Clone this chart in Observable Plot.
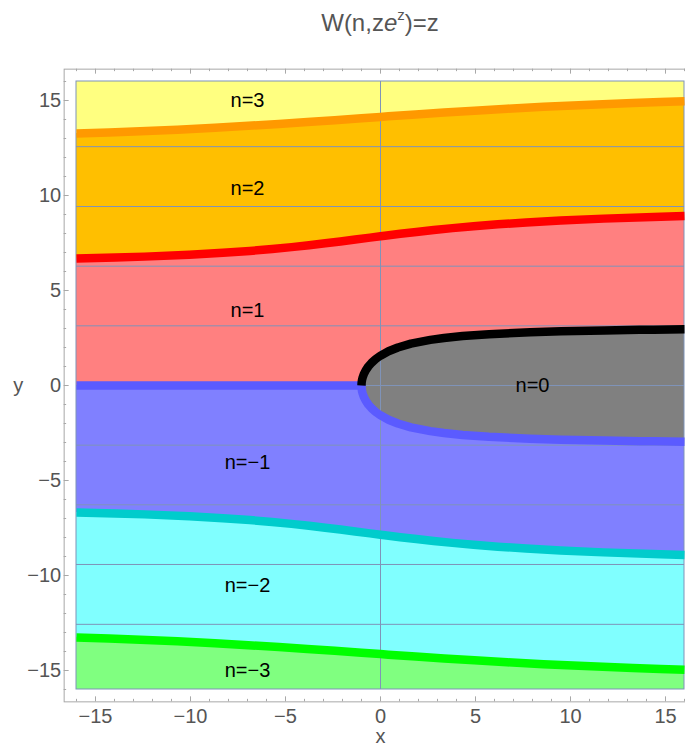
<!DOCTYPE html>
<html><head><meta charset="utf-8">
<script src="https://cdn.jsdelivr.net/npm/d3@7"></script>
<script src="https://cdn.jsdelivr.net/npm/@observablehq/plot@0.6"></script>
<style>
html,body{margin:0;padding:0;background:#fff;overflow:hidden;}
#title{position:relative;height:48px;width:685px;}
#title span.t{position:absolute;left:380px;top:11px;transform:translateX(-50%);font:24px/24px "Liberation Sans",Arial,sans-serif;color:#555;white-space:nowrap;}
#title span.sup{font-size:15px;position:relative;top:-11px;}
#chart svg{max-width:none !important;}
</style></head>
<body>
<div id="title"><span class="t">W(n,z<i>e</i><span class="sup">z</span>)=z</span></div>
<div id="chart"></div>
<script>
// ---- data ----
const dataLimX = [-16, 16];
const dataLimY = [-16, 16];
const axisLimX = [-16.65, 16.65];
const axisLimY = [-16.65, 16.65];
const majorTicks = [-15, -10, -5, 0, 5, 10, 15];
const minorTicks = [-16,-14,-13,-12,-11,-9,-8,-7,-6,-4,-3,-2,-1,1,2,3,4,6,7,8,9,11,12,13,14,16];
const gridY = [-12.57, -9.42, -6.28, -3.14, 0, 3.14, 6.28, 9.42, 12.57];
const gridX = [0];

// boundary n=2 / n=3 (orange)
const edgeOrange = [[-16.0,13.258],[-14.29,13.316],[-12.98,13.366],[-10.69,13.466],[-8.71,13.566],[-6.96,13.666],[-5.35,13.766],[-3.85,13.866],[-2.41,13.966],[-1.00,14.066],[0,14.137],[0.41,14.166],[1.85,14.266],[3.35,14.366],[4.94,14.466],[6.67,14.566],[8.58,14.666],[10.75,14.766],[13.28,14.866],[14.73,14.916],[16.0,14.956]];
// boundary n=1 / n=2 (red)
const edgeRed = [[-16.0,6.678],[-13.94,6.733],[-12.42,6.783],[-10.06,6.883],[-8.29,6.983],[-6.88,7.083],[-5.70,7.183],[-4.68,7.283],[-3.76,7.383],[-2.91,7.483],[-2.11,7.583],[-1.33,7.683],[-0.55,7.783],[0,7.854],[0.23,7.883],[1.04,7.983],[1.89,8.083],[2.80,8.183],[3.79,8.283],[4.90,8.383],[6.18,8.483],[7.67,8.583],[9.48,8.683],[11.75,8.783],[14.76,8.883],[16.0,8.916]];
// boundary n=0 / n=1 (black)
const edgeBlack = [[-1.0,0],[-0.997,0.1],[-0.987,0.2],[-0.970,0.3],[-0.946,0.4],[-0.877,0.6],[-0.777,0.8],[-0.642,1.0],[-0.467,1.2],[-0.242,1.4],[0,1.571],[0.420,1.8],[0.915,2.0],[1.601,2.2],[2.620,2.4],[3.343,2.5],[4.32,2.6],[5.71,2.7],[7.87,2.8],[9.50,2.85],[11.77,2.9],[13.64,2.93],[14.38,2.94],[15.21,2.95],[16.0,2.9586]];
// boundary n=-1 / n=0 and n=-1 / n=1 (blue)
const edgeBlueCut = [[-16,0],[-1.0,0]];
const edgeBlue = [[-1.0,0],[-0.997,-0.1],[-0.987,-0.2],[-0.970,-0.3],[-0.946,-0.4],[-0.877,-0.6],[-0.777,-0.8],[-0.642,-1.0],[-0.467,-1.2],[-0.242,-1.4],[0,-1.571],[0.420,-1.8],[0.915,-2.0],[1.601,-2.2],[2.620,-2.4],[3.343,-2.5],[4.32,-2.6],[5.71,-2.7],[7.87,-2.8],[9.50,-2.85],[11.77,-2.9],[13.64,-2.93],[14.38,-2.94],[15.21,-2.95],[16.0,-2.9586]];
// boundary n=-2 / n=-1 (cyan)
const edgeCyan = [[-16.0,-6.678],[-13.94,-6.733],[-12.42,-6.783],[-10.06,-6.883],[-8.29,-6.983],[-6.88,-7.083],[-5.70,-7.183],[-4.68,-7.283],[-3.76,-7.383],[-2.91,-7.483],[-2.11,-7.583],[-1.33,-7.683],[-0.55,-7.783],[0,-7.854],[0.23,-7.883],[1.04,-7.983],[1.89,-8.083],[2.80,-8.183],[3.79,-8.283],[4.90,-8.383],[6.18,-8.483],[7.67,-8.583],[9.48,-8.683],[11.75,-8.783],[14.76,-8.883],[16.0,-8.916]];
// boundary n=-3 / n=-2 (green)
const edgeGreen = [[-16.0,-13.258],[-14.29,-13.316],[-12.98,-13.366],[-10.69,-13.466],[-8.71,-13.566],[-6.96,-13.666],[-5.35,-13.766],[-3.85,-13.866],[-2.41,-13.966],[-1.00,-14.066],[0,-14.137],[0.41,-14.166],[1.85,-14.266],[3.35,-14.366],[4.94,-14.466],[6.67,-14.566],[8.58,-14.666],[10.75,-14.766],[13.28,-14.866],[14.73,-14.916],[16.0,-14.956]];

const regionNames = ["n=3", "n=2", "n=1", "n=0", "n=\u22121", "n=\u22122", "n=\u22123"];
const regionLabelX = [-7, -7, -7, 8, -7, -7, -7];
const regionLabelY = [15, 10.35, 3.95, 0, -4.04, -10.53, -15];

// ---- styles ----
const C = {
  n3: "#FFFF80", n2: "#FFBF00", n1: "#FF8080", n0: "#808080", nm1: "#8080FF", nm2: "#80FFFF", nm3: "#80FF80",
  orange: "#FF9900", red: "#FF0000", black: "#000000", blue: "#5B5BFF", cyan: "#00CCCC", green: "#00FF00",
  grid: "#7F93B8", frame: "#A8A8A8", text: "#555555"
};
const W = 697, H = 700, mL = 63.65, mR = 0.65, mT = 20.65, mB = 46.65;
const frameW = W - mL - mR, frameH = H - mT - mB;
const LW = 8.5;

const pts = a => a.map(([x, y]) => ({x, y}));
const fmt = d => d < 0 ? "\u2212" + Math.abs(d) : String(d);
const labels = regionNames.map((t, i) => ({t, x: regionLabelX[i], y: regionLabelY[i]}));
const yLo = dataLimY[0];

const plot = Plot.plot({
  width: W, height: H,
  marginLeft: mL, marginRight: mR, marginTop: mT, marginBottom: mB,
  x: {domain: axisLimX},
  y: {domain: axisLimY},
  style: {fontFamily: "'Liberation Sans', Arial, sans-serif", color: C.text, background: "white", maxWidth: "none"},
  marks: [
    // region fills
    Plot.rect([0], {x1: dataLimX[0], x2: dataLimX[1], y1: dataLimY[0], y2: dataLimY[1], fill: C.n3}),
    Plot.areaY(pts(edgeOrange), {x: "x", y1: yLo, y2: "y", fill: C.n2}),
    Plot.areaY(pts(edgeRed), {x: "x", y1: yLo, y2: "y", fill: C.n1}),
    Plot.areaY(pts(edgeBlueCut.concat(edgeBlack.slice(1).map(([x]) => [x, 0]))), {x: "x", y1: yLo, y2: "y", fill: C.nm1}),
    Plot.areaY(pts(edgeCyan), {x: "x", y1: yLo, y2: "y", fill: C.nm2}),
    Plot.areaY(pts(edgeGreen), {x: "x", y1: yLo, y2: "y", fill: C.nm3}),
    Plot.areaY(pts(edgeBlack), {x: "x", y1: 0, y2: "y", fill: C.n0}),
    Plot.areaY(pts(edgeBlue), {x: "x", y1: 0, y2: "y", fill: C.n0}),
    // grid lines
    Plot.ruleY(gridY, {y: d => d, x1: dataLimX[0], x2: dataLimX[1], stroke: C.grid, strokeWidth: 1}),
    Plot.ruleX(gridX, {x: d => d, y1: dataLimY[0], y2: dataLimY[1], stroke: C.grid, strokeWidth: 1}),
    Plot.rect([0], {x1: dataLimX[0], x2: dataLimX[1], y1: dataLimY[0], y2: dataLimY[1], fill: "none", stroke: C.grid, strokeWidth: 1}),
    // boundary curves
    Plot.line(pts(edgeOrange), {x: "x", y: "y", stroke: C.orange, strokeWidth: LW, strokeLinecap: "butt"}),
    Plot.line(pts(edgeRed), {x: "x", y: "y", stroke: C.red, strokeWidth: LW, strokeLinecap: "butt"}),
    Plot.line(pts(edgeBlueCut.concat(edgeBlue.slice(1))), {x: "x", y: "y", stroke: C.blue, strokeWidth: LW, strokeLinecap: "butt", strokeLinejoin: "round"}),
    Plot.line(pts(edgeBlack), {x: "x", y: "y", stroke: C.black, strokeWidth: LW, strokeLinecap: "butt"}),
    Plot.line(pts(edgeCyan), {x: "x", y: "y", stroke: C.cyan, strokeWidth: LW, strokeLinecap: "butt"}),
    Plot.line(pts(edgeGreen), {x: "x", y: "y", stroke: C.green, strokeWidth: LW, strokeLinecap: "butt"}),
    // region labels
    Plot.text(labels, {x: "x", y: "y", text: "t", fontSize: 20, fill: "black"}),
    // frame, ticks
    Plot.frame({stroke: C.frame, strokeWidth: 1}),
    Plot.tickX(minorTicks, {x: d => d, insetTop: frameH - 2.5, stroke: C.frame}),
    Plot.tickX(majorTicks, {x: d => d, insetTop: frameH - 5, stroke: C.frame}),
    Plot.tickX(minorTicks, {x: d => d, insetBottom: frameH - 2.5, stroke: C.frame}),
    Plot.tickX(majorTicks, {x: d => d, insetBottom: frameH - 5, stroke: C.frame}),
    Plot.tickY(minorTicks, {y: d => d, insetRight: frameW - 2.5, stroke: C.frame}),
    Plot.tickY(majorTicks, {y: d => d, insetRight: frameW - 5, stroke: C.frame}),
    Plot.axisX({ticks: majorTicks, tickSize: 0, tickPadding: 7, fontSize: 20, tickFormat: fmt, label: null}),
    Plot.axisY({ticks: majorTicks, tickSize: 0, tickPadding: 3, fontSize: 20, tickFormat: fmt, label: null}),
    // axis labels
    Plot.text(["x"], {frameAnchor: "bottom", lineAnchor: "middle", textAnchor: "middle", dy: 35, text: d => d, fontSize: 20, fill: C.text}),
    Plot.text(["y"], {frameAnchor: "left", lineAnchor: "middle", textAnchor: "middle", dx: -46, text: d => d, fontSize: 20, fill: C.text})
  ]
});
document.getElementById("chart").appendChild(plot);
</script>
</body></html>
